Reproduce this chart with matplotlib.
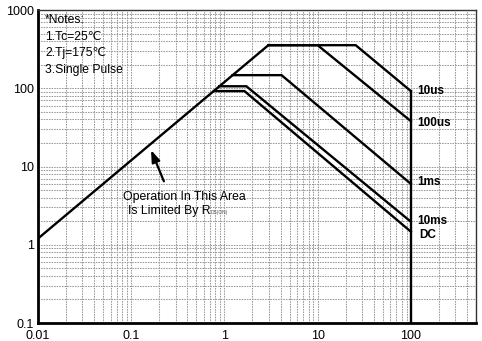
import matplotlib
matplotlib.use("Agg")
from matplotlib import pyplot as plt
from matplotlib.ticker import FixedLocator, FixedFormatter, LogLocator, NullFormatter

plt.rcParams['font.family'] = ['Liberation Sans', 'DejaVu Sans']

# safe operating area curves (Vds in V, Id in A)
v_rdson = [0.01, 2.96]
i_rdson = [1.2, 355]

v_10us = [2.96, 25.6, 100]
i_10us = [355, 355, 92]

v_100us = [2.96, 10, 100]
i_100us = [355, 355, 38]

v_1ms = [1.22, 4.1, 100]
i_1ms = [147, 147, 6.0]

v_10ms = [0.88, 1.72, 100]
i_10ms = [106, 106, 1.97]

v_dc = [0.77, 1.64, 100]
i_dc = [92, 92, 1.47]

v_limit = [100, 100]
i_limit = [0.1, 92]

curve_labels = ["10us", "100us", "1ms", "10ms", "DC"]
label_y = [92, 36, 6.3, 2.0, 1.33]
label_x = [118, 118, 118, 118, 123]

x_ticks = [0.01, 0.1, 1, 10, 100]
x_tick_labels = ["0.01", "0.1", "1", "10", "100"]
y_ticks = [0.1, 1, 10, 100, 1000]
y_tick_labels = ["0.1", "1", "10", "100", "1000"]

notes = ["*Notes:", "1.Tc=25\u2103", "2.Tj=175\u2103", "3.Single Pulse"]

fig = plt.figure(figsize=(4.82, 3.41), dpi=100)
ax = fig.add_axes([38 / 482, 1 - 323 / 341, 438 / 482, 313 / 341])
ax.set_xscale("log")
ax.set_yscale("log")
ax.set_xlim(0.01, 500)
ax.set_ylim(0.1, 1000)

# dashed grid, every 1..9 of each decade
ax.xaxis.set_minor_locator(LogLocator(base=10, subs=range(2, 10)))
ax.yaxis.set_minor_locator(LogLocator(base=10, subs=range(2, 10)))
ax.xaxis.set_minor_formatter(NullFormatter())
ax.yaxis.set_minor_formatter(NullFormatter())
ax.grid(True, which="both", color="#9a9a9a", linestyle=(0, (1.5, 1.0)), linewidth=0.75)
ax.set_axisbelow(True)

ax.xaxis.set_major_locator(FixedLocator(x_ticks))
ax.xaxis.set_major_formatter(FixedFormatter(x_tick_labels))
ax.yaxis.set_major_locator(FixedLocator(y_ticks))
ax.yaxis.set_major_formatter(FixedFormatter(y_tick_labels))
ax.tick_params(which="both", length=0, labelsize=9)
ax.tick_params(axis="x", pad=5)
ax.tick_params(axis="y", pad=3)

for side in ["left", "bottom"]:
    ax.spines[side].set_linewidth(2)
for side in ["top", "right"]:
    ax.spines[side].set_linewidth(1)
    ax.spines[side].set_color("#333333")

lw = 1.7
for vx, iy in [(v_rdson, i_rdson), (v_10us, i_10us), (v_100us, i_100us),
               (v_1ms, i_1ms), (v_10ms, i_10ms), (v_dc, i_dc), (v_limit, i_limit)]:
    ax.plot(vx, iy, color="black", linewidth=lw, solid_joinstyle="miter")

for txt, lx, ly in zip(curve_labels, label_x, label_y):
    ax.text(lx, ly, txt, fontsize=8.5, fontweight="bold", va="center", ha="left")

# notes block in the top-left corner
for k, line in enumerate(notes):
    ax.text(7 / 438, 1 - (k * 16.5 + 10) / 313, line,
            transform=ax.transAxes, fontsize=8.7, va="center", ha="left")

ax.annotate("", xy=(0.159, 17.5), xytext=(0.23, 6.0),
            arrowprops=dict(arrowstyle="-|>,head_length=0.7,head_width=0.25",
                            color="black", linewidth=1.6))
ax.text(0.0817, 4.1, "Operation In This Area", fontsize=8.8, va="center", ha="left")
rd = ax.text(0.092, 2.7, "Is Limited By R", fontsize=8.8, va="center", ha="left")
ax.annotate("DS(ON)", xy=(1, 0), xycoords=rd, xytext=(0.5, 1.5), textcoords="offset points",
            fontsize=3.5, va="bottom", ha="left", color="#555555")

fig.savefig("out.png", dpi=100)
